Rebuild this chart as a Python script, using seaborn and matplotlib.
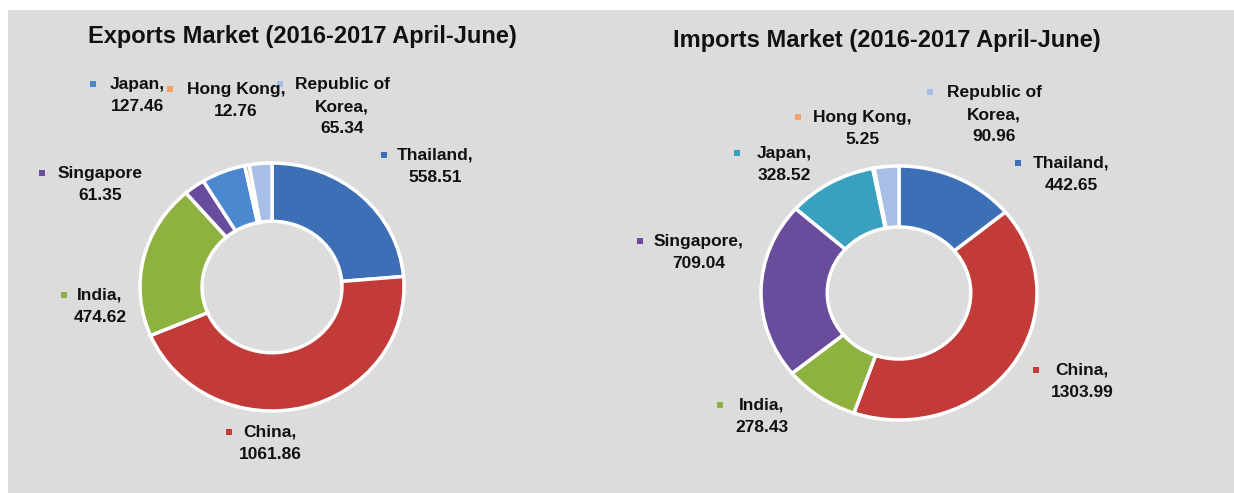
import matplotlib
matplotlib.use("Agg")
import matplotlib.pyplot as plt
from matplotlib.patches import Rectangle
import seaborn as sns

# data, clockwise from 12 o'clock
countries = ["Thailand", "China", "India", "Singapore", "Japan", "Hong Kong", "Republic of Korea"]
exports = [558.51, 1061.86, 474.62, 61.35, 127.46, 12.76, 65.34]
imports = [442.65, 1303.99, 278.43, 709.04, 328.52, 5.25, 90.96]

export_labels = ["Thailand,\n558.51", "China,\n1061.86", "India,\n474.62", "Singapore\n61.35",
                 "Japan,\n127.46", "Hong Kong,\n12.76", "Republic of\nKorea,\n65.34"]
import_labels = ["Thailand,\n442.65", "China,\n1303.99", "India,\n278.43", "Singapore,\n709.04",
                 "Japan,\n328.52", "Hong Kong,\n5.25", "Republic of\nKorea,\n90.96"]

export_colors = ["#3c6fb6", "#c23b38", "#8db23f", "#6a4c9c", "#4c88d0", "#f2a36a", "#a7bee6"]
import_colors = ["#3c6fb6", "#c23b38", "#8db23f", "#6a4c9c", "#3aa0c0", "#f2a36a", "#a7bee6"]

# label layout in pixels: (text centre x, first line y, marker x)
export_pos = [(435, 155, 384), (270, 432, 229), (100, 295, 64), (100, 173, 42),
              (137, 84, 93), (236, 89, 170), (342, 84, 280)]
import_pos = [(1071, 163, 1018), (1082, 370, 1036), (762, 405, 720), (699, 241, 640),
              (784, 153, 737), (862, 117, 798), (994, 92, 930)]

sns.set_theme(style="white")
plt.rcParams["font.family"] = ["Liberation Sans", "DejaVu Sans"]

W, H = 1234, 493
fig = plt.figure(figsize=(W / 100, H / 100), dpi=100, facecolor="white")
fig.patches.append(Rectangle((8 / W, 0), 1, 1 - 10 / H, transform=fig.transFigure,
                             facecolor="#dcdcdc", edgecolor="none", zorder=-10))


def px(x, y):
    return x / W, 1 - y / H


def donut(values, colors, cx, cy, rx, ry, hole):
    ax = fig.add_axes([(cx - rx) / W, (H - cy - ry) / H, 2 * rx / W, 2 * ry / H])
    ax.pie(values, colors=colors, startangle=90, counterclock=False,
           wedgeprops=dict(width=1 - hole, edgecolor="white", linewidth=2.5))
    ax.set_xlim(-1, 1)
    ax.set_ylim(-1, 1)
    ax.set_aspect("auto")
    ax.set_facecolor("none")
    ax.axis("off")
    return ax


def labels(texts, colors, pos):
    lh = 22.5
    for t, c, (tx, ty, mx) in zip(texts, colors, pos):
        n = t.count("\n") + 1
        yc = ty + (n - 1) * lh / 2
        fig.text(*px(tx, yc), t, ha="center", va="center", multialignment="center",
                 fontsize=12.5, fontweight="bold", color="#111111", linespacing=1.55)
        fig.patches.append(Rectangle(px(mx - 3, ty + 3), 6 / W, 6 / H, transform=fig.transFigure,
                                     facecolor=c, edgecolor="none"))


donut(exports, export_colors, 272, 287, 132, 124, 0.53)
donut(imports, import_colors, 899, 293, 138, 127, 0.52)
labels(export_labels, export_colors, export_pos)
labels(import_labels, import_colors, import_pos)

fig.text(*px(302, 37), "Exports Market (2016-2017 April-June)", ha="center", va="center",
         fontsize=17, fontweight="bold", color="#111111")
fig.text(*px(887, 41), "Imports Market (2016-2017 April-June)", ha="center", va="center",
         fontsize=17, fontweight="bold", color="#111111")

fig.savefig("out.png", dpi=100, facecolor=fig.get_facecolor())
